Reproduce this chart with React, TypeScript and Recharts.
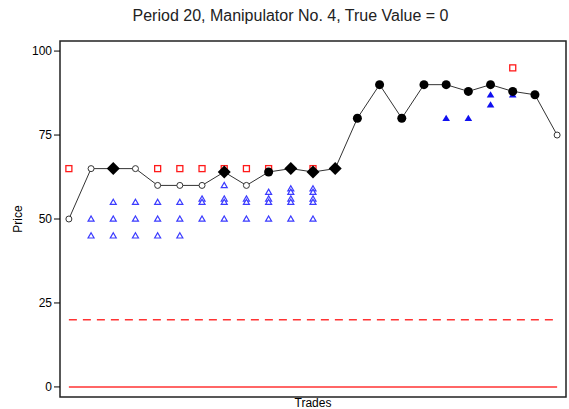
import React from 'react';
import {
  ScatterChart,
  Scatter,
  XAxis,
  YAxis,
  ReferenceLine,
  ReferenceArea,
} from 'recharts';

// trade sequence and transaction prices
const trades = [1, 2, 3, 4, 5, 6, 7, 8, 9, 10, 11, 12, 13, 14, 15, 16, 17, 18, 19, 20, 21, 22, 23];
const prices = [50, 65, 65, 65, 60, 60, 60, 64, 60, 64, 65, 64, 65, 80, 90, 80, 90, 90, 88, 90, 88, 87, 75];
// o = open circle, d = filled diamond, f = filled circle
const markers = ['o', 'o', 'd', 'o', 'o', 'o', 'o', 'd', 'o', 'f', 'd', 'd', 'd', 'f', 'f', 'f', 'f', 'f', 'f', 'f', 'f', 'f', 'o'];

// standing asks (red squares): [trade, price]
const asks: [number, number][] = [
  [1, 65], [5, 65], [6, 65], [7, 65], [8, 65], [9, 65], [10, 65], [12, 65], [21, 95],
];

// standing bids (open blue triangles)
const bids: [number, number][] = [
  [2, 50], [2, 45],
  [3, 55], [3, 50], [3, 45],
  [4, 55], [4, 50], [4, 45],
  [5, 55], [5, 50], [5, 45],
  [6, 55], [6, 50], [6, 45],
  [7, 56], [7, 55], [7, 50],
  [8, 60], [8, 56], [8, 55], [8, 50],
  [9, 56], [9, 55], [9, 50],
  [10, 58], [10, 56], [10, 55], [10, 50],
  [11, 59], [11, 58], [11, 56], [11, 55], [11, 50],
  [12, 59], [12, 58], [12, 56], [12, 55], [12, 50],
];

// manipulator bids (filled blue triangles)
const manipBids: [number, number][] = [[18, 80], [19, 80], [20, 84], [20, 87], [21, 87]];

const yTicks = [0, 25, 50, 75, 100];
const trueValue = 0;
const dashedLevel = 20;

const X_DOMAIN: [number, number] = [0.6, 23.4];
const Y_DOMAIN: [number, number] = [-3, 103];

const priceData = trades.map((t, i) => ({ x: t, y: prices[i], kind: markers[i] }));
const toPts = (arr: [number, number][]) => arr.map(([x, y]) => ({ x, y }));

const PriceDot = (props: any) => {
  const { cx, cy, payload } = props;
  if (cx == null || cy == null) return null;
  if (payload.kind === 'd') {
    const s = 6.5;
    return <polygon points={`${cx},${cy - s} ${cx + s},${cy} ${cx},${cy + s} ${cx - s},${cy}`} fill="#000" />;
  }
  if (payload.kind === 'f') {
    return <circle cx={cx} cy={cy} r={4.5} fill="#000" />;
  }
  return <circle cx={cx} cy={cy} r={3} fill="#fff" stroke="#333" strokeWidth={1} />;
};

const AskSquare = (props: any) => {
  const { cx, cy } = props;
  return <rect x={cx - 3} y={cy - 3} width={6} height={6} fill="none" stroke="#ff1a1a" strokeWidth={1.3} />;
};

const OpenTriangle = (props: any) => {
  const { cx, cy } = props;
  return (
    <polygon
      points={`${cx},${cy - 3} ${cx + 3},${cy + 2.2} ${cx - 3},${cy + 2.2}`}
      fill="#fff"
      stroke="#3b3bff"
      strokeWidth={1.2}
    />
  );
};

const FilledTriangle = (props: any) => {
  const { cx, cy } = props;
  return <polygon points={`${cx},${cy - 3.5} ${cx + 3.8},${cy + 2.8} ${cx - 3.8},${cy + 2.8}`} fill="#1010f0" />;
};

export default function App() {
  return (
    <div
      style={{
        position: 'relative',
        width: 569,
        height: 409,
        background: '#fff',
        fontFamily: '"Liberation Sans", Arial, sans-serif',
      }}
    >
      <style>{'body{margin:0}'}</style>
      <div
        style={{
          position: 'absolute',
          top: 7,
          left: 6,
          width: 569,
          textAlign: 'center',
          fontSize: 16,
          color: '#222',
        }}
      >
        Period 20, Manipulator No. 4, True Value = 0
      </div>
      <ScatterChart width={569} height={409} margin={{ top: 41, right: 3, bottom: 0, left: 0 }}>
        <XAxis
          type="number"
          dataKey="x"
          domain={X_DOMAIN}
          tick={false}
          axisLine={false}
          tickLine={false}
          height={12}
          label={{ value: 'Trades', position: 'center', fontSize: 12, fill: '#000' }}
        />
        <YAxis
          type="number"
          dataKey="y"
          domain={Y_DOMAIN}
          ticks={yTicks}
          width={60}
          axisLine={false}
          tickLine={{ stroke: '#000' }}
          tick={{ fill: '#000', fontSize: 12 }}
          label={{ value: 'Price', angle: -90, position: 'center', dx: -12, fontSize: 12, fill: '#000' }}
        />
        <ReferenceArea
          x1={X_DOMAIN[0]}
          x2={X_DOMAIN[1]}
          y1={Y_DOMAIN[0]}
          y2={Y_DOMAIN[1]}
          fill="none"
          fillOpacity={0}
          stroke="#222"
          strokeWidth={1.5}
        />
        <ReferenceLine
          segment={[{ x: trades[0], y: trueValue }, { x: trades[trades.length - 1], y: trueValue }]}
          stroke="#ff3333"
          strokeWidth={1.5}
        />
        <ReferenceLine
          segment={[{ x: trades[0], y: dashedLevel }, { x: trades[trades.length - 1], y: dashedLevel }]}
          stroke="#ff3333"
          strokeWidth={1.5}
          strokeDasharray="8 6"
        />
        <Scatter data={toPts(bids)} shape={OpenTriangle} isAnimationActive={false} />
        <Scatter data={toPts(manipBids)} shape={FilledTriangle} isAnimationActive={false} />
        <Scatter data={toPts(asks)} shape={AskSquare} isAnimationActive={false} />
        <Scatter
          data={priceData}
          shape={PriceDot}
          line={{ stroke: '#333', strokeWidth: 1 }}
          lineType="joint"
          isAnimationActive={false}
        />
      </ScatterChart>
    </div>
  );
}
